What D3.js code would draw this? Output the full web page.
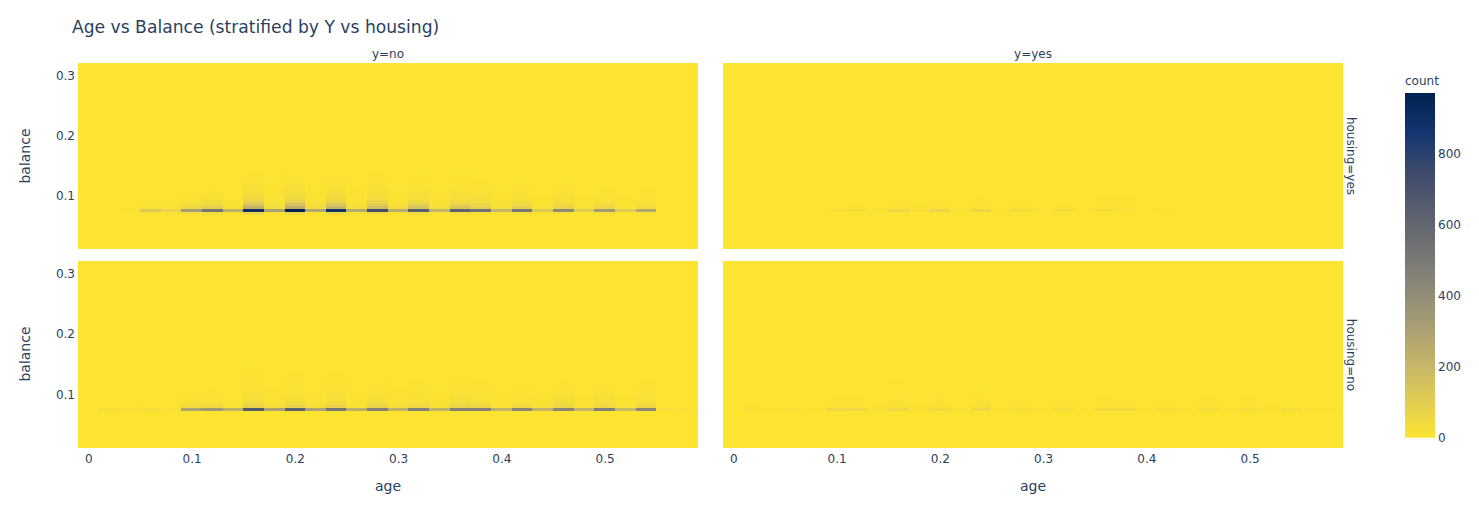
<!DOCTYPE html>
<html>
<head>
<meta charset="utf-8">
<script src="https://cdn.jsdelivr.net/npm/d3@7"></script>
<style>
    body { margin: 0; background: #fff; }
    text { font-family: "DejaVu Sans", sans-serif; fill: #2a3f5f; }
</style>
</head>
<body>
<svg id="chart" width="1479" height="515"></svg>
<script>
'use strict';

const ageBins = [0, 0.02, 0.04, 0.06, 0.08, 0.1, 0.12, 0.14, 0.16, 0.18, 0.2, 0.22, 0.24, 0.26, 0.28,
    0.3, 0.32, 0.34, 0.36, 0.38, 0.4, 0.42, 0.44, 0.46, 0.48, 0.5, 0.52, 0.54, 0.56, 0.58];
const balanceBins = [0.07, 0.075, 0.08, 0.085, 0.09, 0.095, 0.1, 0.105, 0.11, 0.115, 0.12, 0.125,
    0.13, 0.135, 0.14, 0.145, 0.15, 0.155, 0.16];
const ageTicks = [0, 0.1, 0.2, 0.3, 0.4, 0.5];
const balanceTicks = [0.1, 0.2, 0.3];
const countTicks = [0, 200, 400, 600, 800];
const cividisColors = ['#fde431', '#e1cc55', '#c3b369', '#a59c74', '#8a8678', '#707173', '#575d6d', '#3b496c', '#123570', '#00224e'];

// counts per age bin, each list runs upward through balanceBins
const noYes = [
    [], [], [0, 15, 2], [5, 120, 12, 6, 3, 2, 1], [10, 70, 12, 6, 3, 1],
    [25, 330, 60, 28, 15, 9, 5, 3, 2], [30, 520, 95, 48, 28, 16, 11, 7, 5, 3, 2, 1],
    [5, 230, 18, 10, 6, 4, 3, 1, 1],
    [60, 900, 220, 135, 75, 48, 36, 28, 22, 17, 12, 9, 6, 4, 2, 1],
    [8, 300, 40, 24, 15, 10, 8, 6, 4, 3, 2, 2, 1],
    [55, 970, 235, 145, 85, 52, 38, 30, 24, 18, 14, 10, 7, 5, 3, 2],
    [8, 280, 36, 20, 12, 9, 6, 4, 2, 1],
    [50, 880, 205, 120, 72, 46, 34, 26, 19, 15, 13, 9, 7, 5, 3, 2, 2, 1],
    [6, 260, 30, 18, 11, 8, 5, 4, 3, 2, 2, 1, 1, 1, 1, 1],
    [40, 730, 170, 100, 60, 38, 28, 21, 16, 13, 9, 7, 5, 3, 2],
    [6, 250, 35, 20, 11, 7, 5, 4, 2, 2],
    [30, 650, 140, 80, 48, 32, 24, 18, 13, 9, 7, 5, 3, 2, 2, 1, 1, 1],
    [5, 220, 26, 15, 10, 7, 5, 4, 2, 2, 1, 1],
    [28, 620, 130, 75, 44, 30, 22, 17, 12, 9, 7, 5, 3, 2, 2, 1, 1, 1],
    [22, 540, 100, 60, 38, 26, 20, 15, 11, 7, 5, 3, 2, 2, 1, 1],
    [5, 200, 24, 14, 9, 6, 4, 3, 2, 2, 1, 1],
    [20, 510, 92, 50, 30, 18, 12, 8, 6, 4, 2, 2, 1, 1],
    [3, 120, 12, 7, 4, 3, 1, 1],
    [15, 420, 78, 44, 26, 18, 12, 9, 7, 5, 3, 2, 2, 2, 1, 1],
    [2, 100, 10, 6, 4, 3, 2, 1, 1],
    [12, 340, 58, 34, 20, 13, 8, 6, 4, 2, 2, 1, 1],
    [2, 110, 12, 7, 4, 3, 2, 1, 1],
    [10, 270, 36, 24, 13, 8, 6, 4, 3, 2, 1, 1, 1],
    [], []
];
const yesYes = [
    [], [], [], [0, 4, 1], [0, 5, 1],
    [1, 22, 5, 2, 1], [1, 28, 6, 3, 1, 1], [0, 10, 2, 1],
    [2, 60, 12, 5, 3, 1, 1], [0, 22, 6, 3, 2, 1],
    [2, 68, 14, 8, 4, 2, 1, 1, 1, 1], [0, 16, 3, 2, 1, 1],
    [2, 62, 12, 7, 4, 3, 1, 1, 1], [0, 10, 3, 2, 1],
    [1, 40, 7, 4, 3, 2, 1], [0, 8, 2, 1, 1],
    [1, 30, 5, 3, 2, 1, 1], [0, 7, 2, 1],
    [1, 26, 6, 5, 4, 3, 1, 1], [1, 18, 5, 4, 3, 3, 2, 1], [0, 5, 1, 1],
    [1, 10, 3, 2, 1], [0, 3, 1], [1, 7, 2, 1, 1], [0, 2, 1], [1, 7, 2, 1, 1], [0, 2, 1], [1, 7, 2, 1], [], []
];
const noNo = [
    [], [0, 30, 2], [0, 8, 1], [0, 30, 7, 4, 2], [0, 12, 2],
    [2, 300, 40, 22, 12, 7, 4, 2], [2, 340, 52, 30, 18, 13, 7, 4, 3, 2, 1, 1],
    [1, 230, 10, 4, 2, 1],
    [3, 670, 85, 52, 32, 22, 17, 13, 12, 5, 8, 7, 4, 5, 3, 4, 2, 2],
    [1, 310, 26, 15, 11, 7, 5, 4, 3, 1],
    [3, 630, 80, 44, 26, 20, 13, 15, 9, 10, 5, 8, 4, 3, 1],
    [1, 300, 26, 14, 8, 5, 3, 3, 1],
    [2, 520, 88, 44, 28, 22, 16, 10, 8, 5, 6, 4, 5, 3, 1],
    [1, 250, 18, 10, 6, 4, 3, 2, 1, 1],
    [2, 470, 78, 42, 28, 18, 13, 8, 6, 5, 4, 3, 2],
    [1, 230, 22, 12, 8, 5, 4, 3, 3, 2, 1, 1],
    [2, 460, 55, 30, 18, 12, 8, 10, 6, 4, 3, 2, 1, 1],
    [1, 230, 16, 8, 6, 4, 3, 3, 2, 2, 1, 1, 1, 1],
    [2, 470, 78, 35, 28, 22, 15, 10, 8, 5, 4, 5, 3, 2, 1, 1],
    [1, 470, 64, 30, 20, 14, 11, 8, 6, 5, 4, 2, 1],
    [1, 220, 12, 7, 5, 3, 3, 2, 1, 1],
    [1, 440, 55, 26, 19, 13, 9, 5, 4, 3, 2, 1, 1],
    [1, 220, 20, 10, 6, 4, 3, 2, 1, 1],
    [1, 440, 68, 40, 28, 18, 11, 8, 5, 4, 3, 2, 1, 1],
    [1, 220, 14, 7, 5, 3, 2, 2, 1, 1],
    [1, 470, 55, 35, 24, 18, 13, 9, 6, 4, 3, 3, 2, 1],
    [1, 190, 10, 7, 4, 3, 2, 1, 1],
    [1, 430, 55, 35, 20, 14, 12, 8, 5, 4, 3, 2, 1, 1, 1, 1],
    [0, 20, 2], [0, 15, 1]
];
const yesNo = [
    [], [0, 12, 4, 2, 1], [0, 3, 1], [0, 18, 6, 3, 1], [0, 5, 1],
    [1, 55, 12, 7, 5, 4, 2, 2, 1], [1, 50, 9, 7, 5, 4, 2, 2, 1], [0, 13, 3, 1],
    [1, 52, 18, 11, 6, 8, 2, 7, 1, 1, 3, 1, 1], [0, 13, 4, 2, 1, 1],
    [1, 46, 16, 8, 4, 3, 8, 2, 1, 1, 1, 1, 1, 1], [0, 10, 2, 1, 1],
    [1, 50, 20, 14, 7, 4, 3, 2, 2, 1, 1, 1], [0, 8, 2, 1, 1],
    [1, 30, 9, 6, 3, 2, 1, 1], [0, 7, 2, 1, 1, 1],
    [1, 30, 9, 6, 3, 2, 1, 1, 1, 1], [0, 7, 2, 1, 1],
    [1, 40, 10, 7, 4, 3, 1, 1], [1, 40, 8, 4, 3, 2, 1], [0, 7, 2, 1],
    [1, 26, 7, 4, 3, 1, 1, 1], [0, 5, 2, 1],
    [1, 30, 10, 7, 5, 3, 2, 1], [0, 5, 2, 1],
    [1, 26, 8, 6, 4, 3, 2, 1, 1], [0, 8, 3, 1],
    [1, 35, 6, 4, 2, 1, 1, 1, 1], [0, 3], [0, 3]
];

const svg = d3.select('#chart');
const color = d3.scaleLinear()
    .domain(cividisColors.map((c, i) => i * 972 / 9))
    .range(cividisColors);

const panels = [
    { counts: noYes, left: 78, top: 63, bottom: 249, yTicks: true, xTicks: false },
    { counts: yesYes, left: 723, top: 63, bottom: 249, yTicks: false, xTicks: false },
    { counts: noNo, left: 78, top: 261, bottom: 448, yTicks: true, xTicks: true },
    { counts: yesNo, left: 723, top: 261, bottom: 448, yTicks: false, xTicks: true }
];

function drawPanel(p) {
    const x = d3.scaleLinear().domain([-0.01, 0.59]).range([p.left, p.left + 619.6]);
    const y = d3.scaleLinear().domain([0.0115, 0.3205]).range([p.bottom, p.top]);
    const cellWidth = x(0.02) - x(0);
    const cellHeight = y(0) - y(0.005);

    const group = svg.append('g').attr('shape-rendering', 'crispEdges');

    // the empty bins all share the colour of zero
    group.append('rect')
        .attr('x', p.left)
        .attr('y', p.top)
        .attr('width', 619.6)
        .attr('height', p.bottom - p.top)
        .attr('fill', color(0));

    const cells = [];
    p.counts.forEach((column, i) => {
        column.forEach((count, j) => {
            cells.push({ age: ageBins[i], balance: balanceBins[j], count: count });
        });
    });

    group.selectAll('rect.cell').data(cells).enter().append('rect')
        .attr('class', 'cell')
        .attr('x', (d) => x(d.age) - cellWidth / 2)
        .attr('y', (d) => y(d.balance) - cellHeight / 2)
        .attr('width', cellWidth)
        .attr('height', cellHeight)
        .attr('fill', (d) => color(d.count));

    if (p.yTicks) {
        const axis = svg.append('g')
            .attr('transform', `translate(${p.left - 3},0)`)
            .call(d3.axisLeft(y).tickValues(balanceTicks).tickFormat(d3.format('~g')).tickSize(0).tickPadding(0));
        axis.select('.domain').remove();
        axis.selectAll('text').attr('font-size', 12).style('font-family', '"DejaVu Sans"');
    }
    if (p.xTicks) {
        const axis = svg.append('g')
            .attr('transform', `translate(0,${p.bottom + 6})`)
            .call(d3.axisBottom(x).tickValues(ageTicks).tickFormat(d3.format('~g')).tickSize(0).tickPadding(0));
        axis.select('.domain').remove();
        axis.selectAll('text').attr('font-size', 12).style('font-family', '"DejaVu Sans"');
    }
}

panels.forEach(drawPanel);

function label(txt, px, py, size, rotate) {
    const t = svg.append('text')
        .attr('font-size', size)
        .attr('text-anchor', 'middle')
        .attr('transform', `translate(${px},${py})` + (rotate ? ` rotate(${rotate})` : ''))
        .text(txt);
    return t;
}

label('Age vs Balance (stratified by Y vs housing)', 72, 33, 17.15).attr('text-anchor', 'start');
label('y=no', 388, 58, 12);
label('y=yes', 1033, 58, 12);
label('housing=yes', 1347, 156, 12, 90);
label('housing=no', 1347, 355, 12, 90);
label('age', 388, 491, 14);
label('age', 1033, 491, 14);
label('balance', 30, 156, 14, -90);
label('balance', 30, 354, 14, -90);
label('count', 1405, 85, 12).attr('text-anchor', 'start');

// colour bar
const barScale = d3.scaleLinear().domain([0, 972]).range([437.7, 93]);
const gradient = svg.append('defs').append('linearGradient')
    .attr('id', 'countGradient')
    .attr('x1', 0).attr('y1', 1).attr('x2', 0).attr('y2', 0);
gradient.selectAll('stop').data(cividisColors).enter().append('stop')
    .attr('offset', (d, i) => i / 9)
    .attr('stop-color', (d) => d);
svg.append('rect')
    .attr('x', 1405)
    .attr('y', barScale(972))
    .attr('width', 30)
    .attr('height', barScale(0) - barScale(972))
    .attr('fill', 'url(#countGradient)');
const barAxis = svg.append('g')
    .attr('transform', 'translate(1438,0)')
    .call(d3.axisRight(barScale).tickValues(countTicks).tickSize(0).tickPadding(0));
barAxis.select('.domain').remove();
barAxis.selectAll('text').attr('font-size', 12).style('font-family', '"DejaVu Sans"');
</script>
</body>
</html>
